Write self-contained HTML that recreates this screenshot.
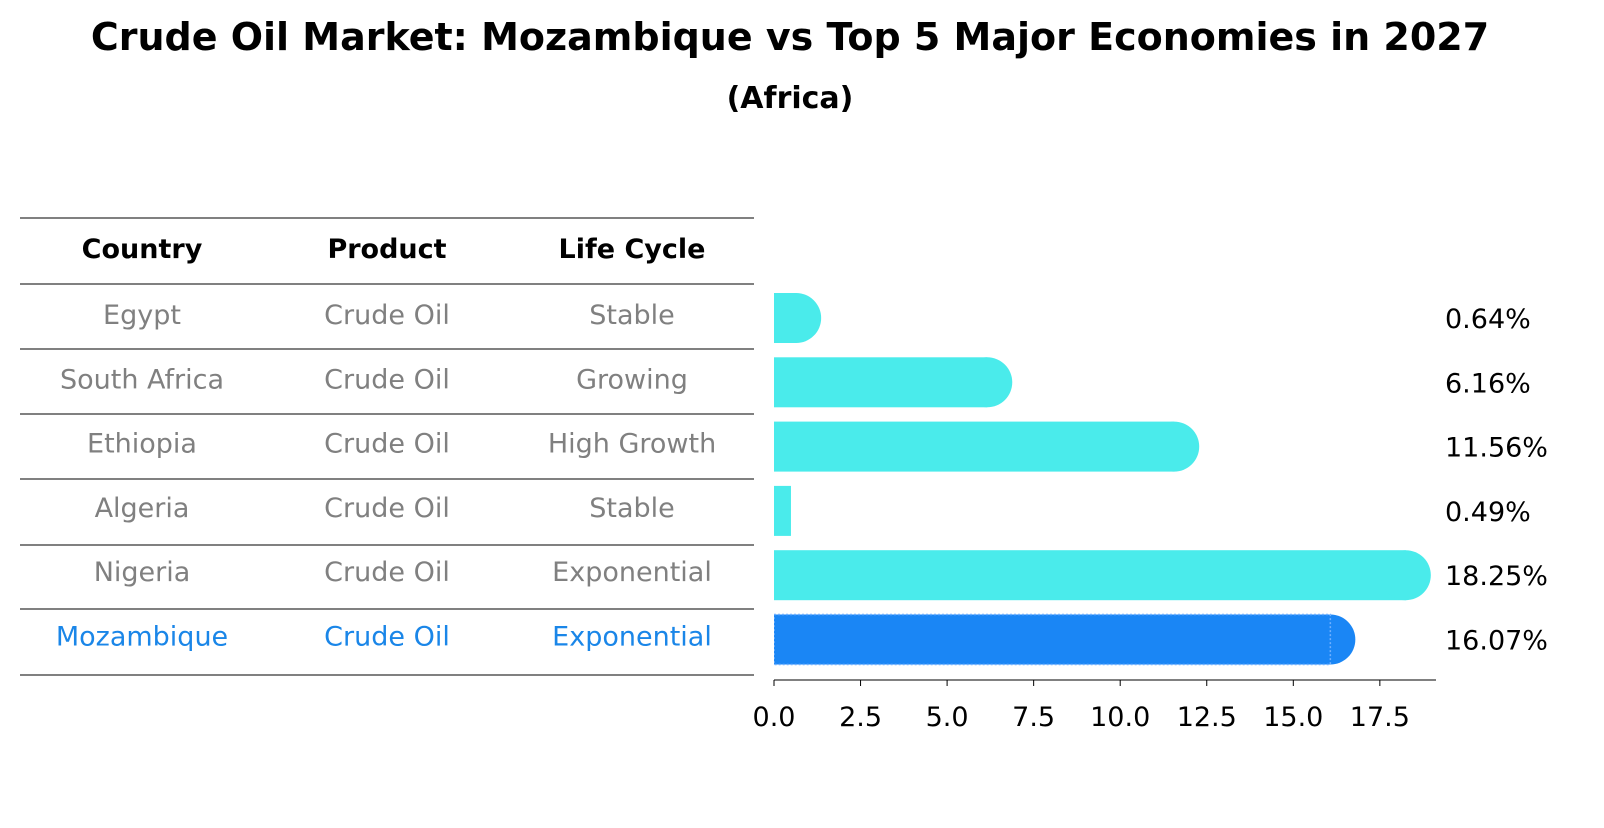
<!DOCTYPE html>
<html><head><meta charset="utf-8"><style>
body{margin:0;background:#fff;font-family:"Liberation Sans","DejaVu Sans",sans-serif;}
svg text{font-family:"DejaVu Sans","Liberation Sans",sans-serif;}
</style></head><body>
<svg width="1604" height="823" xmlns="http://www.w3.org/2000/svg">
<defs><clipPath id="plotclip"><rect x="774" y="200" width="800" height="500"/></clipPath></defs>
<text x="790" y="50" text-anchor="middle" font-size="38" font-weight="bold">Crude Oil Market: Mozambique vs Top 5 Major Economies in 2027</text>
<text x="790" y="108" text-anchor="middle" font-size="30" font-weight="bold">(Africa)</text>
<g id="table"></g>
<g id="bars"></g>
</svg>
<script>
const countries=["Egypt","South Africa","Ethiopia","Algeria","Nigeria","Mozambique"];
const products=["Crude Oil","Crude Oil","Crude Oil","Crude Oil","Crude Oil","Crude Oil"];
const lifecycles=["Stable","Growing","High Growth","Stable","Exponential","Exponential"];
const values=[0.64,6.16,11.56,0.49,18.25,16.07];
const ticks=[0,2.5,5,7.5,10,12.5,15,17.5];
const NS="http://www.w3.org/2000/svg";
const x0=774,pxPer=34.62;
const xs=v=>x0+v*pxPer;
const rowY=i=>318+i*63.8;
function mk(tag,attrs,parent,txt){const e=document.createElementNS(NS,tag);for(const k in attrs)e.setAttribute(k,attrs[k]);if(txt!=null)e.textContent=txt;parent.appendChild(e);return e;}
const tbl=document.getElementById('table');
const lineYs=[218,284,349,414,479,545,609,675];
lineYs.forEach(y=>{const l=mk('line',{x1:20,x2:754,y1:y,y2:y,stroke:'#000','stroke-width':1},tbl);

});
const colX=[142,387,632];
["Country","Product","Life Cycle"].forEach((h,j)=>{const t=mk('text',{x:colX[j],y:258,'text-anchor':'middle','font-size':27,'font-weight':'bold'},tbl,h);

});
countries.forEach((c,i)=>{
 const y=rowY(i)+i*0.5;const col=i===5?'#1a86e8':'#808080';
 [c,products[i],lifecycles[i]].forEach((s,j)=>{const t=mk('text',{x:colX[j],y:y+6,'text-anchor':'middle','font-size':27,fill:col},tbl,s);
 
 });
});
const g=document.getElementById('bars');
const pg=mk('g',{'clip-path':'url(#plotclip)'},g);
values.forEach((v,i)=>{
 const cy=rowY(i)+i*0.5;const col=i===5?'#1a86f5':'#4aebeb';
 const r=mk('rect',{x:x0,y:cy-25,width:xs(v)-x0,height:50,fill:col},pg);
 
 
 if(v>0.5){const c=mk('circle',{cx:xs(v),cy:cy,r:25,fill:col},pg);
 
 }
 if(i===5){const o=mk('rect',{x:x0,y:cy-25,width:xs(v)-x0,height:50,fill:'none',stroke:'#6fb0ff','stroke-width':1.5,'stroke-dasharray':'2,2'},pg);
 
 }
 const t=mk('text',{x:1445,y:cy+10,'font-size':27},g,v.toFixed(2)+'%');
 
 
});
const ax=mk('line',{x1:x0,x2:1436,y1:680,y2:680,stroke:'#000','stroke-width':1},g);


ticks.forEach(tk=>{const l=mk('line',{x1:xs(tk),x2:xs(tk),y1:680,y2:686,stroke:'#000'},g);


const t=mk('text',{x:xs(tk),y:726,'text-anchor':'middle','font-size':27},g,tk.toFixed(1));

});
</script>
</body></html>
